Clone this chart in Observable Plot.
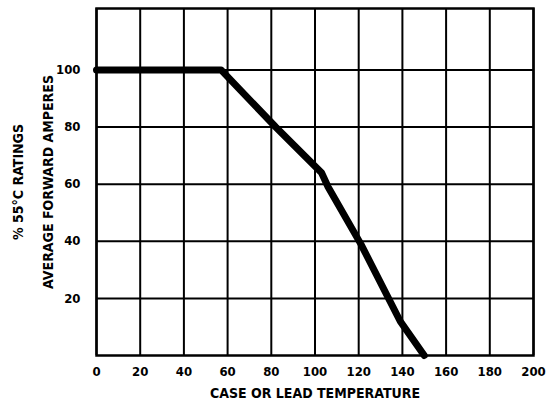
<!DOCTYPE html>
<html><head><meta charset="utf-8">
<script src="https://cdn.jsdelivr.net/npm/d3@7"></script>
<script src="https://cdn.jsdelivr.net/npm/@observablehq/plot@0.6"></script>
<style>
body{margin:0;background:#fff;}
svg{font-family:"Liberation Sans Narrow","DejaVu Sans Condensed",sans-serif;font-weight:bold;}
</style></head>
<body><div id="chart"></div>
<script>
const temps = [0, 57, 82, 103, 106, 121, 139, 150];
const ratings = [100, 100, 80, 64, 59, 39, 12, 0];
const xTicks = [0, 20, 40, 60, 80, 100, 120, 140, 160, 180, 200];
const yTicks = [20, 40, 60, 80, 100];
const yGrid = [20, 40, 60, 80, 100];
const xLabel = "CASE OR LEAD TEMPERATURE";
const yLabel1 = "% 55°C RATINGS";
const yLabel2 = "AVERAGE FORWARD AMPERES";

const curve = temps.map((t, i) => ({t, r: ratings[i]}));

const chart = Plot.plot({
  width: 549, height: 411,
  marginLeft: 96, marginRight: 16, marginTop: 8, marginBottom: 56,
  style: {fontFamily: '"Liberation Sans Narrow","DejaVu Sans Condensed",sans-serif', fontWeight: "bold", fontSize: "13px", color: "#000", background: "#fff"},
  x: {domain: [0, 200]},
  y: {domain: [0, 121.5]},
  marks: [
    Plot.gridX(xTicks, {stroke: "#000", strokeOpacity: 1, strokeWidth: 2}),
    Plot.gridY(yGrid, {stroke: "#000", strokeOpacity: 1, strokeWidth: 2}),
    Plot.frame({stroke: "#000", strokeWidth: 2.5}),
    Plot.axisX(xTicks, {tickSize: 0, tickPadding: 11, label: null, fontSize: 13}),
    Plot.axisY(yTicks, {tickSize: 0, tickPadding: 16, label: null, fontSize: 13}),
    Plot.line(curve, {x: "t", y: "r", stroke: "#000", strokeWidth: 7, strokeLinejoin: "round"}),
    Plot.text([xLabel], {text: d => d, frameAnchor: "bottom", dy: 42, fontSize: 14, fontWeight: "bold"}),
    Plot.text([yLabel1], {text: d => d, frameAnchor: "left", textAnchor: "middle", dx: -78, dy: 0, rotate: -90, fontSize: 14, fontWeight: "bold"}),
    Plot.text([yLabel2], {text: d => d, frameAnchor: "left", textAnchor: "middle", dx: -48, dy: 0, rotate: -90, fontSize: 14, fontWeight: "bold"})
  ]
});
document.getElementById("chart").appendChild(chart);
</script></body></html>
